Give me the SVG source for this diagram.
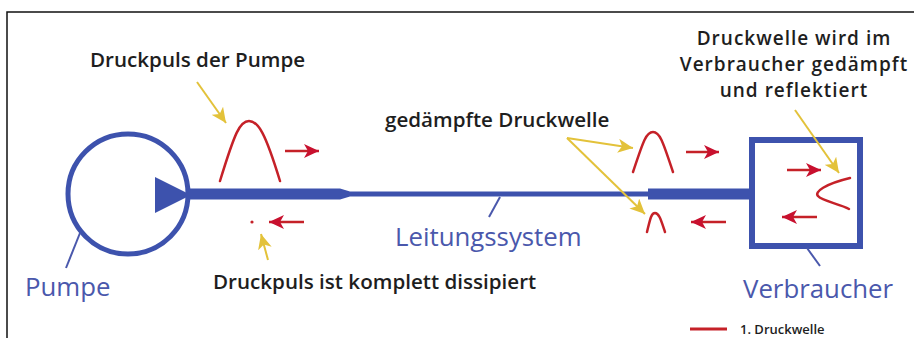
<svg xmlns="http://www.w3.org/2000/svg" width="914" height="338" viewBox="0 0 914 338">
<defs>
<style>
.lbl{font-family:"Open Sans","Noto Sans",sans-serif;font-weight:600;fill:#1e1e1e;font-size:20.6px}
.tr{font-size:19px;letter-spacing:1px}
.blbl{font-family:"Open Sans","Noto Sans",sans-serif;font-weight:400;fill:#4a58ac;font-size:25.8px}
.blue{fill:none;stroke:#3d52ad}
.lead{fill:none;stroke:#4a58ac;stroke-width:2}
.wave{fill:none;stroke:#c52128;stroke-width:2.5;stroke-linecap:round}
.rarr{fill:none;stroke:#c52128;stroke-width:2.5}
.yarr{fill:none;stroke:#e3c23a;stroke-width:2}
</style>
<marker id="rh" markerUnits="userSpaceOnUse" markerWidth="16" markerHeight="14" refX="15" refY="7" orient="auto">
<path d="M0,0 L15,7 L0,14 L4,7 Z" fill="#c8102e"/>
</marker>
<marker id="yh" markerUnits="userSpaceOnUse" markerWidth="16" markerHeight="14" refX="15" refY="7" orient="auto">
<path d="M0,0 L15,7 L0,14 L4,7 Z" fill="#e3c23a"/>
</marker>
</defs>
<rect width="914" height="338" fill="#ffffff"/>
<path d="M7,340 V12 H916" fill="none" stroke="#111" stroke-width="1.5"/>

<g id="pumpe">
<circle cx="128" cy="194" r="60" class="blue" stroke-width="5"/>
<path d="M155,177 L191,195 L155,213 Z" fill="#3d52ad"/>
<text x="25" y="296" class="blbl">Pumpe</text>
</g>

<g id="leitungssystem">
<path d="M188,188.5 H340 L350,191.5 H648 V188.5 H752 V199.5 H648 V196.5 H350 L340,199.5 H188 Z" fill="#3d52ad"/>
<text x="395" y="246" class="blbl">Leitungssystem</text>
</g>

<g id="verbraucher">
<rect x="752" y="140" width="108" height="106" class="blue" stroke-width="6"/>
<text x="743" y="298" class="blbl">Verbraucher</text>
</g>

<g id="wellen">
<path class="wave" d="M220,181 C235,132 240,121 249,121 C258,121 265,132 280,181"/>
<circle cx="252" cy="222" r="1.6" fill="#c52128"/>
<path class="wave" d="M633,172 C643,142 646,132 653,132 C660,132 663,142 673,172"/>
<path class="wave" d="M647,232 C650,220 651,213 655,213 C659,213 661,220 665,232"/>
<path class="wave" d="M850,178 C825,184 814,192 818,196 C822,201 840,204 849,209"/>
</g>

<g id="connectors">
<line class="rarr" x1="285" y1="151" x2="319" y2="151" marker-end="url(#rh)"/>
<line class="rarr" x1="304" y1="222" x2="269" y2="222" marker-end="url(#rh)"/>
<line class="rarr" x1="686" y1="152" x2="719" y2="152" marker-end="url(#rh)"/>
<line class="rarr" x1="726" y1="222" x2="691" y2="222" marker-end="url(#rh)"/>
<line class="rarr" x1="787" y1="170" x2="821" y2="170" marker-end="url(#rh)"/>
<line class="rarr" x1="817" y1="217" x2="782" y2="217" marker-end="url(#rh)"/>
<line class="yarr" x1="197" y1="82" x2="226" y2="123" marker-end="url(#yh)"/>
<line class="yarr" x1="268" y1="260" x2="261" y2="234" marker-end="url(#yh)"/>
<line class="yarr" x1="567" y1="138" x2="633" y2="148" marker-end="url(#yh)"/>
<line class="yarr" x1="567" y1="138" x2="645" y2="214" marker-end="url(#yh)"/>
<line class="yarr" x1="795" y1="110" x2="839" y2="173" marker-end="url(#yh)"/>
<line class="lead" x1="80" y1="233" x2="66" y2="268"/>
<line class="lead" x1="500" y1="197" x2="489" y2="217"/>
<line class="lead" x1="807" y1="248" x2="820" y2="266"/>
</g>

<g id="beschriftung">
<text x="90" y="67" class="lbl">Druckpuls der Pumpe</text>
<text x="385" y="127" class="lbl">gedämpfte Druckwelle</text>
<text x="794" y="45" class="lbl tr" text-anchor="middle">Druckwelle wird im</text>
<text x="794" y="71" class="lbl tr" text-anchor="middle">Verbraucher gedämpft</text>
<text x="794" y="97" class="lbl tr" text-anchor="middle">und reflektiert</text>
<text x="213" y="289" class="lbl">Druckpuls ist komplett dissipiert</text>
</g>

<g id="legende">
<line x1="690" y1="329" x2="727" y2="329" stroke="#c52128" stroke-width="3"/>
<text x="740" y="334" class="lbl" style="font-size:13px">1. Druckwelle</text>
</g>
</svg>
